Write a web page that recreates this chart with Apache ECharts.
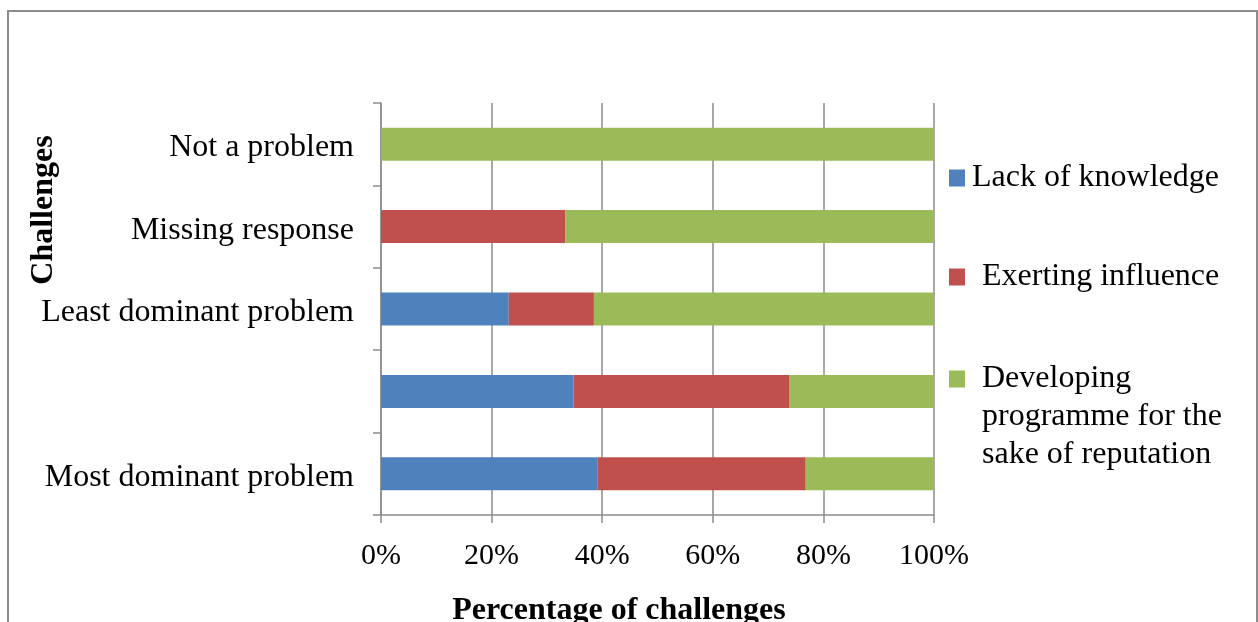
<!DOCTYPE html>
<html>
<head>
<meta charset="utf-8">
<script src="https://cdn.jsdelivr.net/npm/echarts@6/dist/echarts.min.js"></script>
<style>
  html, body { margin: 0; padding: 0; background: #fff; }
  #chart { width: 1258px; height: 622px; }
</style>
</head>
<body>
<div id="chart"></div>
<script>
// Challenge categories, listed bottom to top as drawn on the vertical axis
const categories = ['Most dominant problem', '', 'Least dominant problem', 'Missing response', 'Not a problem'];

// Share of responses (%) per challenge type
const lackOfKnowledge   = [39.2, 34.8, 23.1, 0, 0];
const exertingInfluence = [37.6, 39.1, 15.4, 33.3, 0];
const developingProgramme = [23.2, 26.1, 61.5, 66.7, 100];

const seriesNames = ['Lack of knowledge', 'Exerting influence', 'Developing programme for the sake of reputation'];
const xTicks = [0, 20, 40, 60, 80, 100];

const FONT = "'Liberation Serif', 'Times New Roman', serif";
const GRAY = '#8c8c8c';
const COLORS = ['#4f81bd', '#c0504d', '#9bbb59'];

const chart = echarts.init(document.getElementById('chart'), null, { renderer: 'canvas' });

// One legend block per series so each entry can sit at its own height
function legendFor(i, top, textStyle, formatter) {
  return {
    show: true,
    orient: 'vertical',
    left: 949,
    top: top,
    padding: 0,
    icon: 'rect',
    itemWidth: 16,
    itemHeight: 17,
    itemGap: 0,
    selectedMode: false,
    data: [seriesNames[i]],
    formatter: formatter,
    textStyle: Object.assign({ fontFamily: FONT, fontSize: 32, color: '#000' }, textStyle)
  };
}

const option = {
  backgroundColor: '#fff',
  animation: false,
  grid: { left: 381, right: 324, top: 103, bottom: 107, containLabel: false },
  xAxis: {
    type: 'value',
    min: xTicks[0],
    max: xTicks[xTicks.length - 1],
    interval: 20,
    axisLine: { show: true, lineStyle: { color: GRAY, width: 1.5 } },
    axisTick: { show: true, length: 8, lineStyle: { color: GRAY, width: 1.5 } },
    splitLine: { show: true, lineStyle: { color: GRAY, width: 1.5 } },
    axisLabel: {
      formatter: '{value}%',
      fontFamily: FONT, fontSize: 30, color: '#000', margin: 26
    }
  },
  yAxis: {
    type: 'category',
    data: categories,
    axisLine: { show: true, lineStyle: { color: GRAY, width: 1.5 } },
    axisTick: { show: true, length: 8, alignWithLabel: false, lineStyle: { color: GRAY, width: 1.5 } },
    splitLine: { show: false },
    axisLabel: {
      margin: 27,
      formatter: v => (v ? '{c|' + v + '}' : ''),
      rich: { c: { fontFamily: FONT, fontSize: 32, color: '#000', padding: [7, 0, 0, 0] } }
    }
  },
  legend: [
    legendFor(0, 162, { lineHeight: 32, padding: [0, 0, 0, 2] }),
    legendFor(1, 257, { lineHeight: 32, padding: [0, 0, 8, 12] }),
    legendFor(2, 284, { lineHeight: 38, padding: [0, 0, 0, 12] },
      () => '\n\nDeveloping\nprogramme for the\nsake of reputation')
  ],
  series: [
    { name: seriesNames[0], data: lackOfKnowledge, color: COLORS[0] },
    { name: seriesNames[1], data: exertingInfluence, color: COLORS[1] },
    { name: seriesNames[2], data: developingProgramme, color: COLORS[2] }
  ].map(s => ({
    type: 'bar',
    name: s.name,
    stack: 'total',
    data: s.data,
    barCategoryGap: '60%',
    itemStyle: { color: s.color },
    emphasis: { disabled: true }
  })),
  graphic: [
    {
      type: 'rect',
      shape: { x: 8, y: 11, width: 1249, height: 700 },
      style: { fill: null, stroke: GRAY, lineWidth: 2 },
      silent: true
    },
    {
      type: 'text',
      x: 44, y: 210,
      rotation: Math.PI / 2,
      style: {
        text: 'Challenges',
        font: 'bold 32px ' + FONT,
        fill: '#000',
        align: 'center',
        verticalAlign: 'middle'
      }
    },
    {
      type: 'text',
      x: 619, y: 611,
      style: {
        text: 'Percentage of challenges',
        font: 'bold 32px ' + FONT,
        fill: '#000',
        align: 'center',
        verticalAlign: 'middle'
      }
    }
  ]
};

chart.setOption(option);
</script>
</body>
</html>
